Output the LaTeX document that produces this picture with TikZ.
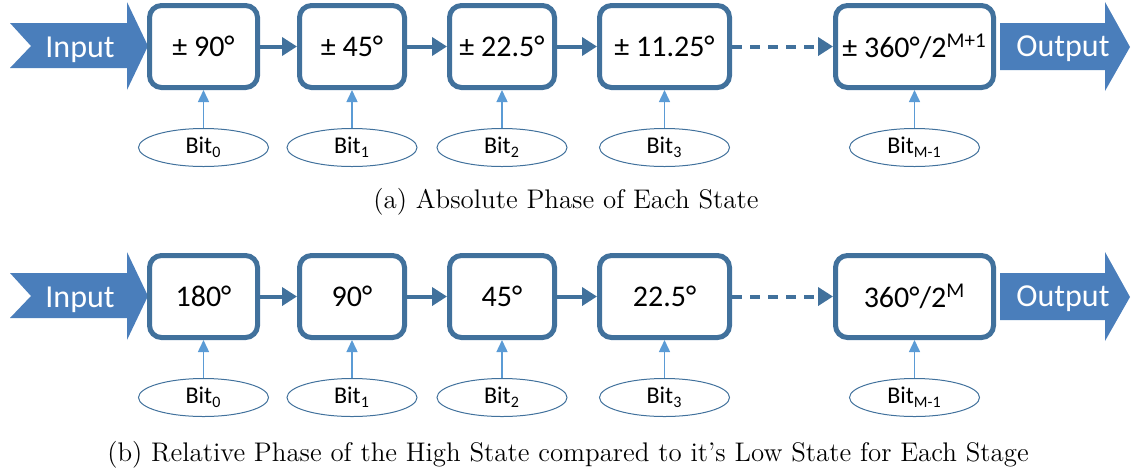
\documentclass[tikz,border=0pt]{standalone}
\usepackage{fontspec}
\newfontfamily\calfont{Carlito}
\usetikzlibrary{arrows.meta,shapes.geometric}
\definecolor{boxblue}{HTML}{41719C}
\definecolor{fillblue}{HTML}{4A7EBB}
\definecolor{bitblue}{HTML}{5B9BD5}

\begin{document}
\begin{tikzpicture}[x=0.5pt, y=-0.5pt,
  stage/.style={draw=boxblue, line width=2.5pt, rounded corners=6pt, fill=white,
    minimum height=41pt, inner sep=0pt, font=\calfont\fontsize{15}{18}\selectfont},
  bit/.style={ellipse, draw=boxblue, line width=0.5pt, minimum width=65pt,
    minimum height=19pt, inner sep=0pt, font=\calfont\fontsize{12}{14}\selectfont},
  io/.style={text=white, anchor=base, font=\calfont\fontsize{16}{19}\selectfont},
  link/.style={draw=boxblue, line width=2pt, -{Triangle[length=7.5pt,width=9pt]}},
  sel/.style={draw=bitblue, line width=0.75pt, -{Triangle[length=6pt,width=5.5pt]}},
  subcap/.style={font=\fontsize{13.45}{16}\selectfont}]
  \useasboundingbox (0,0) rectangle (1133,472);

  % (a) absolute phase
  \fill[fillblue] (10,23) -- (127,23) -- (127,2) -- (148,46) -- (127,90)
    -- (127,68) -- (10,68) -- (31,46) -- cycle;
  \fill[fillblue] (1000,23) -- (1105,23) -- (1105,2) -- (1130,47) -- (1105,91)
    -- (1105,70) -- (1000,70) -- cycle;
  \node[io] (inA) at (80,57) {Input};
  \node[io] (outA) at (1063,56) {Output};
  \node[stage, minimum width=54pt] (A1) at (203.5,46.5) {± 90°};
  \node[stage, minimum width=52.5pt] (A2) at (352,46.5) {± 45°};
  \node[stage, minimum width=52.5pt] (A3) at (502,46.5) {± 22.5°};
  \node[stage, minimum width=65pt] (A4) at (664.5,46.5) {± 11.25°};
  \node[stage, minimum width=79pt] (A5) at (914.5,46.5) {± 360°/2\textsuperscript{M+1}};
  \node[bit] (a0) at (203.5,147.5) {Bit\textsubscript{0}};
  \node[bit] (a1) at (352,147.5) {Bit\textsubscript{1}};
  \node[bit] (a2) at (502,147.5) {Bit\textsubscript{2}};
  \node[bit] (a3) at (664.5,147.5) {Bit\textsubscript{3}};
  \node[bit] (aM) at (914.5,147.5) {Bit\textsubscript{M-1}};
  \draw[link] (A1) -- (A2);
  \draw[link] (A2) -- (A3);
  \draw[link] (A3) -- (A4);
  \draw[link, dash pattern=on 5pt off 4pt] (A4) -- (A5);
  \draw[sel] (a0) -- (A1);
  \draw[sel] (a1) -- (A2);
  \draw[sel] (a2) -- (A3);
  \draw[sel] (a3) -- (A4);
  \draw[sel] (aM) -- (A5);
  \node[subcap] (capA) at (566,202) {(a) Absolute Phase of Each State};

  % (b) relative phase
  \fill[fillblue] (10,273) -- (127,273) -- (127,252) -- (148,296) -- (127,340)
    -- (127,318) -- (10,318) -- (31,296) -- cycle;
  \fill[fillblue] (1000,273) -- (1105,273) -- (1105,252) -- (1130,297) -- (1105,341)
    -- (1105,320) -- (1000,320) -- cycle;
  \node[io] (inB) at (80,307) {Input};
  \node[io] (outB) at (1063,306) {Output};
  \node[stage, minimum width=54pt] (B1) at (203.5,296.5) {180°};
  \node[stage, minimum width=52.5pt] (B2) at (352,296.5) {90°};
  \node[stage, minimum width=52.5pt] (B3) at (502,296.5) {45°};
  \node[stage, minimum width=65pt] (B4) at (664.5,296.5) {22.5°};
  \node[stage, minimum width=79pt] (B5) at (914.5,296.5) {360°/2\textsuperscript{M}};
  \node[bit] (b0) at (203.5,397.5) {Bit\textsubscript{0}};
  \node[bit] (b1) at (352,397.5) {Bit\textsubscript{1}};
  \node[bit] (b2) at (502,397.5) {Bit\textsubscript{2}};
  \node[bit] (b3) at (664.5,397.5) {Bit\textsubscript{3}};
  \node[bit] (bM) at (914.5,397.5) {Bit\textsubscript{M-1}};
  \draw[link] (B1) -- (B2);
  \draw[link] (B2) -- (B3);
  \draw[link] (B3) -- (B4);
  \draw[link, dash pattern=on 5pt off 4pt] (B4) -- (B5);
  \draw[sel] (b0) -- (B1);
  \draw[sel] (b1) -- (B2);
  \draw[sel] (b2) -- (B3);
  \draw[sel] (b3) -- (B4);
  \draw[sel] (bM) -- (B5);
  \node[subcap] (capB) at (568,455) {(b) Relative Phase of the High State compared to it's Low State for Each Stage};
\end{tikzpicture}
\end{document}
